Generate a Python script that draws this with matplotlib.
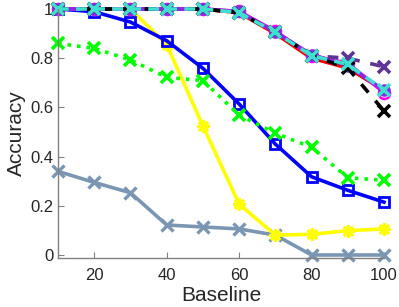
import matplotlib
matplotlib.use("Agg")
import matplotlib.pyplot as plt

plt.rcParams['font.family'] = ['Liberation Sans', 'DejaVu Sans']

x = [10, 20, 30, 40, 50, 60, 70, 80, 90, 100]
grey = [0.34, 0.295, 0.253, 0.122, 0.114, 0.106, 0.081, 0.0, 0.0, 0.0]
yellow = [1.0, 1.0, 1.0, 0.855, 0.525, 0.207, 0.081, 0.084, 0.099, 0.106]
blue = [1.0, 0.989, 0.947, 0.871, 0.759, 0.614, 0.451, 0.318, 0.263, 0.215]
green = [0.86, 0.84, 0.793, 0.722, 0.709, 0.569, 0.495, 0.438, 0.314, 0.304]
red = [1.0, 1.0, 1.0, 1.0, 1.0, 0.985, 0.90, 0.80, 0.76, 0.67]
magenta = [1.0, 1.0, 1.0, 1.0, 1.0, 0.99, 0.91, 0.81, 0.78, 0.66]
violet = [1.0, 1.0, 1.0, 1.0, 1.0, 0.99, 0.905, 0.815, 0.77, 0.67]
dpurple = [1.0, 1.0, 1.0, 1.0, 1.0, 0.985, 0.905, 0.81, 0.80, 0.765]
black = [1.0, 1.0, 1.0, 1.0, 1.0, 0.985, 0.905, 0.81, 0.76, 0.585]
cyan = [1.0, 1.0, 1.0, 1.0, 1.0, 0.985, 0.905, 0.81, 0.775, 0.67]

fig = plt.figure(figsize=(3.99, 3.07), dpi=100)
ax = fig.add_axes([0.1454, 0.1596, 0.8170, 0.8111])

lw = 2.6
ax.plot(x, grey, color='#7b96b2', lw=lw, marker='x', ms=8, mew=2.4, clip_on=False)
ax.plot(x, yellow, color='#ffff00', lw=lw, marker=(8, 2, 0), ms=9, mew=2.0, clip_on=False)
ax.plot(x, blue, color='#0000ff', lw=lw, marker='s', ms=7, mfc='none', mew=2.0, clip_on=False)
ax.plot(x, green, color='#00ff00', lw=lw, ls=':', marker='x', ms=9, mew=2.6, clip_on=False)
ax.plot(x, red, color='#ff0000', lw=lw, clip_on=False)
ax.plot(x, magenta, color='#ff00ff', lw=lw, marker='o', ms=8, mfc='none', mew=1.8, clip_on=False)
ax.plot(x, violet, color='#8a2be2', lw=lw, marker='o', ms=8, clip_on=False)
ax.plot(x, dpurple, color='#5e3494', lw=lw, ls=(0, (3, 3)), marker='x', ms=9, mew=2.6, clip_on=False)
ax.plot(x, black, color='#000000', lw=lw, ls=(0, (3, 3)), marker='x', ms=9, mew=2.6, clip_on=False)
ax.plot(x, cyan, color='#40e0d0', lw=lw, ls=(0, (3, 2)), marker='x', ms=9, mew=2.6, clip_on=False)

ax.set_xlim(10, 100)
ax.set_ylim(-0.0122, 1.0)
ax.set_xticks([20, 40, 60, 80, 100])
ax.set_yticks([0, 0.2, 0.4, 0.6, 0.8, 1])
ax.set_yticklabels(['0', '0.2', '0.4', '0.6', '0.8', '1'])
for s in ['top', 'right']:
    ax.spines[s].set_visible(False)
for s in ['left', 'bottom']:
    ax.spines[s].set_color('#808080')
    ax.spines[s].set_linewidth(1.0)
ax.tick_params(direction='in', length=4, color='#808080', labelsize=12, labelcolor='#262626')
ax.tick_params(axis='x', pad=7)
ax.set_xlabel('Baseline', fontsize=15, color='#262626', labelpad=2)
ax.set_ylabel('Accuracy', fontsize=15, color='#262626', labelpad=3)

fig.savefig('out.png', dpi=100)
